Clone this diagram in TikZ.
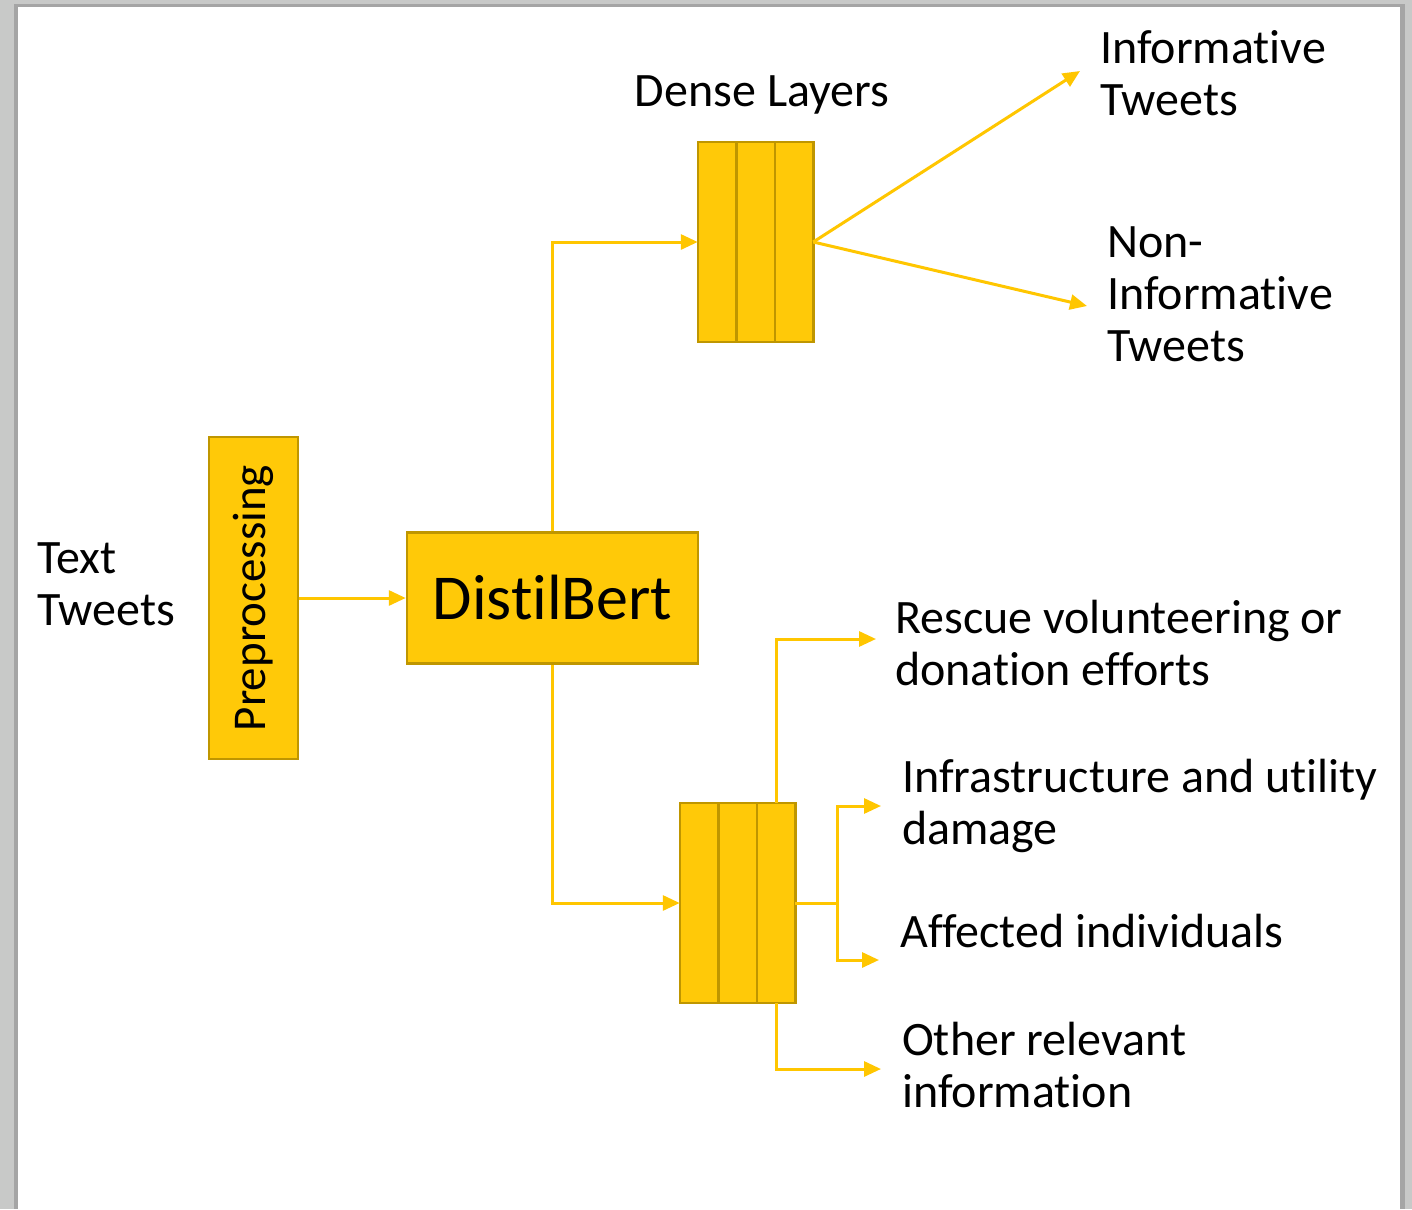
\documentclass[tikz,border=0pt]{standalone}
\usepackage{fontspec}
\setmainfont{Carlito}[Ligatures=NoCommon]
\usetikzlibrary{arrows.meta,positioning}

\definecolor{goldfill}{RGB}{255,201,8}
\definecolor{goldline}{RGB}{191,150,0}
\definecolor{goldarrow}{RGB}{255,198,0}
\definecolor{slidegray}{RGB}{200,201,200}
\definecolor{slideshadow}{RGB}{165,165,165}

\tikzset{
  block/.style={draw=goldline, fill=goldfill, line width=2.5pt, inner sep=0pt},
  layer/.style={block, minimum width=38.5pt, minimum height=200pt, outer sep=0pt},
  link/.style={draw=goldarrow, line width=3pt},
  flow/.style={link, -{Triangle[length=17pt,width=15pt]}},
  lbl/.style={font=\fontsize{48}{52}\selectfont, inner sep=0pt, align=left}
}

\begin{document}
\begin{tikzpicture}[x=1pt, y=-1pt]
        % Slide background
        \useasboundingbox (0,0) rectangle (1412,1209);
        \fill[slidegray] (0,0) rectangle (1412,1209);
        \fill[slideshadow] (14,4) rectangle (1405,1209);
        \fill[white] (18,7) rectangle (1400,1209);

        % Input and main blocks (base = last line)
        \node[lbl, anchor=base west] (src) at (37,625) {Text\\Tweets};
        \node[block, minimum width=89pt, minimum height=322pt] (prep) at (253.5,598)
            {\rotatebox{90}{\fontsize{47}{52}\selectfont Preprocessing}};
        \node[block, minimum width=291pt, minimum height=131pt,
            font=\fontsize{64}{70}\selectfont] (bert) at (552.5,598) {DistilBert};

        % Dense layers, binary head
        \node[layer] (upA) at (717,242) {};
        \node[layer, right=0pt of upA] (upB) {};
        \node[layer, right=0pt of upB] (upC) {};
        \node[lbl, anchor=base] (dense) at (762,107) {Dense Layers};

        % Dense layers, category head
        \node[layer] (lowA) at (699,903) {};
        \node[layer, right=0pt of lowA] (lowB) {};
        \node[layer, right=0pt of lowB] (lowC) {};

        % Output labels
        \node[lbl, anchor=base west] (info) at (1100,116) {Informative\\Tweets};
        \node[lbl, anchor=base west] (noninfo) at (1107,361) {Non-\\Informative\\Tweets};
        \node[lbl, anchor=base west] (rescue) at (895,685) {Rescue volunteering or\\donation efforts};
        \node[lbl, anchor=base west] (infra) at (902,844) {Infrastructure and utility\\damage};
        \node[lbl, anchor=base west] (affected) at (900,947) {Affected individuals};
        \node[lbl, anchor=base west] (other) at (902,1107) {Other relevant\\information};

        % Arrow ends
        \coordinate (infoTip) at (1080,71);
        \coordinate (noninfoTip) at (1087,306);
        \coordinate (rescueTip) at (876,639);
        \coordinate (infraTip) at (881,806);
        \coordinate (affectedTip) at (879,960);
        \coordinate (otherTip) at (881,1069);
        \coordinate (split) at (837,903);

        % Draw the arrows
        \draw[flow] (prep.east) -- (bert.west);
        \draw[flow] (bert.north) |- (upA.west);
        \draw[flow] (bert.south) |- (lowA.west);
        %binary
        \draw[flow] (upC.east) -- (infoTip);
        \draw[flow] (upC.east) -- (noninfoTip);
        %categories
        \draw[flow] (lowC.north) |- (rescueTip);
        \draw[link] (lowC.east) -- (split);
        \draw[flow] (split) |- (infraTip);
        \draw[flow] (split) |- (affectedTip);
        \draw[flow] (lowC.south) |- (otherTip);
\end{tikzpicture}
\end{document}
